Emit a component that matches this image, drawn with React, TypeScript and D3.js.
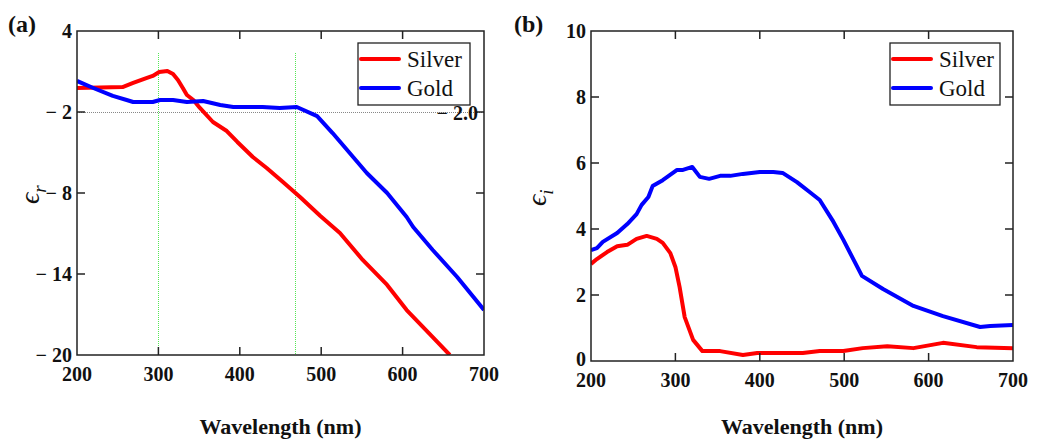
import React from 'react';
import * as d3 from 'd3';

// panel (a): real part of permittivity
const silverRealWl = [200, 256, 269, 286, 293, 301, 311, 318, 324, 330, 335, 343, 351, 367, 384, 397, 416, 433, 453, 474, 499, 523, 551, 581, 605, 637, 658];
const silverReal = [-0.22, -0.15, 0.15, 0.52, 0.67, 0.96, 1.04, 0.81, 0.37, -0.22, -0.74, -1.11, -1.7, -2.74, -3.41, -4.22, -5.33, -6.15, -7.19, -8.3, -9.7, -10.96, -12.96, -14.81, -16.67, -18.67, -20];
const goldRealWl = [200, 220, 244, 261, 269, 293, 302, 318, 335, 355, 376, 392, 428, 449, 470, 495, 514, 535, 556, 581, 605, 613, 637, 667, 700];
const goldReal = [0.3, -0.22, -0.81, -1.11, -1.26, -1.26, -1.11, -1.11, -1.26, -1.19, -1.48, -1.63, -1.63, -1.7, -1.63, -2.3, -3.56, -5.04, -6.52, -8.0, -9.78, -10.52, -12.22, -14.22, -16.67];

// panel (b): imaginary part
const silverImagWl = [200, 207, 219, 231, 243, 254, 266, 278, 285, 294, 300, 305, 311, 321, 332, 353, 380, 397, 451, 471, 499, 522, 551, 582, 617, 657, 700];
const silverImag = [2.94, 3.09, 3.3, 3.48, 3.52, 3.7, 3.79, 3.7, 3.58, 3.27, 2.85, 2.24, 1.33, 0.64, 0.3, 0.3, 0.18, 0.24, 0.24, 0.3, 0.3, 0.39, 0.45, 0.39, 0.55, 0.42, 0.39];
const goldImagWl = [200, 207, 214, 231, 243, 254, 260, 268, 273, 285, 302, 309, 320, 329, 340, 353, 365, 380, 400, 416, 427, 444, 459, 471, 486, 499, 521, 546, 582, 617, 661, 673, 700];
const goldImag = [3.36, 3.42, 3.61, 3.88, 4.15, 4.45, 4.73, 4.97, 5.3, 5.48, 5.79, 5.79, 5.88, 5.58, 5.52, 5.61, 5.61, 5.67, 5.73, 5.73, 5.7, 5.42, 5.12, 4.88, 4.27, 3.67, 2.58, 2.18, 1.67, 1.36, 1.03, 1.06, 1.09];

const xTicks = [200, 300, 400, 500, 600, 700];
const yTicksA = [4, -2, -8, -14, -20];
const yTicksB = [0, 2, 4, 6, 8, 10];
const markerWl = [300, 468];
const refLevel = -2;

const serif = "'Liberation Serif', 'DejaVu Serif', serif";
const fmt = (d: number) => (d < 0 ? `\u2212 ${-d}` : `${d}`);

type Series = { name: string; color: string; wl: number[]; v: number[] };

function Panel(props: {
  left: number; right: number; top: number; bottom: number;
  yDomain: [number, number]; yTicks: number[]; series: Series[];
  tag: string; sub: string; tagX: number; label: [number, number];
  legend: [number, number, number]; extras?: boolean;
}) {
  const { left, right, top, bottom } = props;
  const x = d3.scaleLinear().domain([200, 700]).range([left, right]);
  const y = d3.scaleLinear().domain(props.yDomain).range([bottom, top]);
  const line = d3.line<[number, number]>().x(d => x(d[0])).y(d => y(d[1]));
  const tl = 8;
  const [lx, ly, lw] = props.legend;
  const clipId = 'clip' + props.tag.replace(/\W/g, '');
  const bold = { fontFamily: serif, fontWeight: 'bold' as const };
  return (
    <g>
      <defs>
        <clipPath id={clipId}>
          <rect x={left} y={top} width={right - left} height={bottom - top} />
        </clipPath>
      </defs>
      {props.extras && (
        <g>
          {markerWl.map(w => (
            <line key={w} x1={Math.round(x(w)) + 0.5} x2={Math.round(x(w)) + 0.5} y1={top + 22} y2={bottom}
              stroke="#55e855" strokeWidth={1} strokeDasharray="1,1" />
          ))}
          <line x1={left} x2={right} y1={Math.round(y(refLevel)) + 0.5} y2={Math.round(y(refLevel)) + 0.5}
            stroke="#888" strokeWidth={1} strokeDasharray="1,1" />
        </g>
      )}
      <g clipPath={`url(#${clipId})`}>
        {props.series.map(s => (
          <path key={s.name} d={line(s.wl.map((w, i) => [w, s.v[i]] as [number, number])) || ''}
            fill="none" stroke={s.color} strokeWidth={4} strokeLinejoin="round" />
        ))}
      </g>
      <rect x={left} y={top} width={right - left} height={bottom - top} fill="none" stroke="#222" strokeWidth={1.5} />
      {xTicks.slice(1, -1).map(t => (
        <g key={t}>
          <line x1={x(t)} x2={x(t)} y1={bottom} y2={bottom - tl} stroke="#222" strokeWidth={1.5} />
          <line x1={x(t)} x2={x(t)} y1={top} y2={top + tl} stroke="#222" strokeWidth={1.5} />
        </g>
      ))}
      {props.yTicks.slice(1, -1).map(t => (
        <g key={t}>
          <line x1={left} x2={left + tl} y1={y(t)} y2={y(t)} stroke="#222" strokeWidth={1.5} />
          <line x1={right} x2={right - tl} y1={y(t)} y2={y(t)} stroke="#222" strokeWidth={1.5} />
        </g>
      ))}
      <g style={bold} fontSize={20} fill="#111">
        {xTicks.map(t => (
          <text key={t} x={x(t)} y={bottom + 26} textAnchor="middle" style={bold}>{t}</text>
        ))}
        {props.yTicks.map((t, i) => (
          <text key={t} x={left - 5} y={y(t) + (i === 0 && props.yDomain[0] === 0 ? 5 : 7)} textAnchor="end" style={bold}>{fmt(t)}</text>
        ))}
        {props.extras && (
          <text x={right - 6} y={y(refLevel) + 8} textAnchor="end" style={bold}>{`\u2212 ${Math.abs(refLevel).toFixed(1)}`}</text>
        )}
        <text x={(left + right) / 2} y={434} textAnchor="middle" fontSize={22} style={bold}>Wavelength (nm)</text>
        <text x={props.tagX} y={32} fontSize={24} style={bold}>{props.tag}</text>
      </g>
      <text transform={`translate(${props.label[0]},${props.label[1]}) rotate(-90)`}
        style={{ fontFamily: serif, fontStyle: 'italic' }} fontSize={28} fill="#111">
        {'\u03f5'}<tspan fontSize={19} dy={7}>{props.sub}</tspan>
      </text>
      <g>
        <rect x={lx} y={ly} width={lw} height={62} fill="#fff" stroke="#222" strokeWidth={1.3} />
        {props.series.map((s, i) => (
          <g key={s.name}>
            <line x1={lx + 3} x2={lx + 41} y1={ly + 16 + i * 29} y2={ly + 16 + i * 29} stroke={s.color} strokeWidth={4} strokeLinecap="round" />
            <text x={lx + 49} y={ly + 24 + i * 29} style={{ fontFamily: serif }} fontSize={23} fill="#111">{s.name}</text>
          </g>
        ))}
      </g>
    </g>
  );
}

export default function App() {
  const seriesA: Series[] = [
    { name: 'Silver', color: '#ff0000', wl: silverRealWl, v: silverReal },
    { name: 'Gold', color: '#0000ff', wl: goldRealWl, v: goldReal },
  ];
  const seriesB: Series[] = [
    { name: 'Silver', color: '#ff0000', wl: silverImagWl, v: silverImag },
    { name: 'Gold', color: '#0000ff', wl: goldImagWl, v: goldImag },
  ];
  return (
    <svg width={1037} height={443} style={{ position: 'absolute', left: 0, top: 0, background: '#fff' }}>
      <Panel left={77} right={484} top={31} bottom={355} yDomain={[-20, 4]} yTicks={yTicksA}
        series={seriesA} tag="(a)" sub="r" tagX={8} label={[39, 204]} legend={[358, 43, 112]} extras />
      <Panel left={591} right={1013} top={31} bottom={361} yDomain={[0, 10]} yTicks={yTicksB}
        series={seriesB} tag="(b)" sub="i" tagX={514} label={[546, 206]} legend={[890, 43, 110]} />
    </svg>
  );
}
